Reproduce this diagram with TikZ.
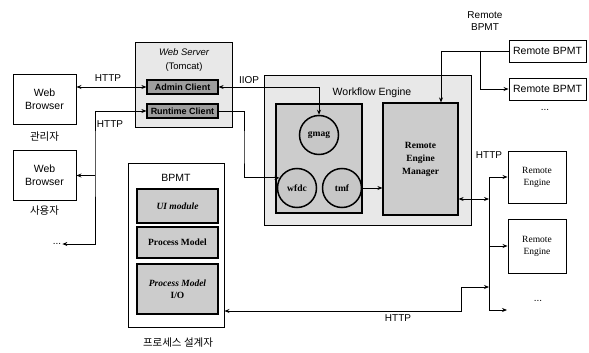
\documentclass[tikz,border=0pt]{standalone}
\usepackage{fontspec}
\setmainfont{Liberation Serif}
\setsansfont{Liberation Sans}
\newfontfamily\kor{Noto Sans CJK KR}
\usetikzlibrary{arrows.meta, positioning, calc}
\tikzset{
  brw/.style = {draw=black, fill=white, minimum width=63pt, minimum height=50pt,
    align=center, inner sep=2pt, line width=0.9pt,
    font=\sffamily\fontsize{10.5}{13}\selectfont},
  grp/.style = {draw=black, fill=black!9, line width=0.9pt, inner sep=0pt},
  cli/.style = {draw=black, fill=black!38, line width=1.2pt, minimum width=71pt,
    minimum height=14pt, inner sep=0pt, font=\sffamily\bfseries\fontsize{9}{10}\selectfont},
  crc/.style = {circle, draw=black, fill=black!22, line width=1.5pt, minimum size=39pt,
    inner sep=0pt, font=\bfseries\fontsize{9.5}{10}\selectfont},
  mdl/.style = {draw=black, fill=black!20, line width=1.2pt, align=center,
    inner sep=0pt, font=\bfseries\fontsize{9.5}{12}\selectfont},
  rmt/.style = {draw=black, fill=white, line width=0.9pt, align=center, inner sep=0pt},
  txt/.style = {font=\sffamily\fontsize{10}{12}\selectfont, align=center, inner sep=1pt},
  kr/.style = {font=\kor\fontsize{10.5}{12}\selectfont, inner sep=1pt},
  lnk/.style = {line width=0.9pt, >={Stealth[length=5pt, width=4pt]}}
}

\begin{document}
\begin{tikzpicture}[x=1pt, y=-1pt]
  \useasboundingbox (0,0) rectangle (589,353);
  % browsers
  \node [brw] (wb1) at (44.5,99.5) {Web\\Browser};
  \node [kr] (adm) at (44.5,137) {관리자};
  \node [brw] (wb2) at (44.5,175.5) {Web\\Browser};
  \node [kr] (usr) at (44.5,211) {사용자};
  \node [txt] (dl) at (57,244) {...};
  % web server
  \node [grp, minimum width=97pt, minimum height=85pt] (ws) at (183.5,84.5) {};
  \node [txt, font=\sffamily\itshape\fontsize{9.5}{10}\selectfont] (wst) at (184,52) {Web Server};
  \node [txt, font=\sffamily\fontsize{9.5}{10}\selectfont] (wsc) at (184,67) {(Tomcat)};
  \node [cli] (ac) at (182.5,87) {Admin Client};
  \node [cli] (rc) at (182.5,111) {Runtime Client};
  % workflow engine
  \node [grp, minimum width=207pt, minimum height=150pt] (we) at (367.5,150) {};
  \node [txt, font=\sffamily\fontsize{10.5}{12}\selectfont] (wet) at (372,93) {Workflow Engine};
  \node [mdl, minimum width=86pt, minimum height=109pt] (core) at (319,158.5) {};
  \node [crc] (gmag) at (319,135) {gmag};
  \node [crc] (wfdc) at (297,188) {wfdc};
  \node [crc] (tmf) at (342,188) {tmf};
  \node [mdl, minimum width=75pt, minimum height=112pt,
    font=\bfseries\fontsize{9.5}{13}\selectfont] (rem) at (420.5,159) {Remote\\Engine\\Manager};
  % remote bpmt
  \node [txt] (rbt) at (485,21) {Remote\\BPMT};
  \node [rmt, minimum width=77pt, minimum height=22pt,
    font=\sffamily\fontsize{10.5}{12}\selectfont] (rb1) at (547.5,51) {Remote BPMT};
  \node [rmt, minimum width=77pt, minimum height=22pt,
    font=\sffamily\fontsize{10.5}{12}\selectfont] (rb2) at (547.5,89) {Remote BPMT};
  \node [txt] (dr) at (545,110) {...};
  % remote engines
  \node [rmt, minimum width=58pt, minimum height=52pt,
    font=\fontsize{9.5}{12}\selectfont] (re1) at (537,177) {Remote\\Engine};
  \node [rmt, minimum width=58pt, minimum height=54pt,
    font=\fontsize{9.5}{12}\selectfont] (re2) at (537,246) {Remote\\Engine};
  \node [txt] (de2) at (538,301) {...};
  % bpmt
  \node [rmt, minimum width=96pt, minimum height=164pt] (bpmt) at (176,245) {};
  \node [txt, font=\sffamily\fontsize{10.5}{12}\selectfont] (bpt) at (176,178) {BPMT};
  \node [mdl, minimum width=81pt, minimum height=34pt, font=\bfseries\itshape\fontsize{9.5}{12}\selectfont]
    (ui) at (177.5,206) {UI module};
  \node [mdl, minimum width=81pt, minimum height=31pt] (pm) at (177.5,242.5) {Process Model};
  \node [mdl, minimum width=81pt, minimum height=50pt]
    (pio) at (177.5,289) {\textit{Process Model}\\I/O};
  \node [kr] (dsg) at (178,343) {프로세스 설계자};
  % labels
  \node [txt] (h1) at (108,78) {HTTP};
  \node [txt] (h2) at (110,124) {HTTP};
  \node [txt] (iiop) at (249,80) {IIOP};
  \node [txt] (h3) at (489,155) {HTTP};
  \node [txt] (h4) at (398,318) {HTTP};
  % connectors
  \coordinate (hv) at (95,150);
  \coordinate (rv) at (244,150);
  \coordinate (rj) at (441,51);
  \coordinate (rk) at (480,51);
  \coordinate (bt) at (489,177);
  \coordinate (bb) at (489,310);
  \coordinate (de) at (507,310);
  \coordinate (hb) at (489,199);
  \coordinate (hj) at (489,287);
  \coordinate (hc) at (461,311);
  \draw [lnk, <->] (wb1.east |- ac.west) -- (ac.west);
  \draw [lnk, <->] (rc.west) -| (hv) |- (dl.east);
  \draw [lnk, ->] (wb2.east -| hv) -- (wb2.east);
  \draw [lnk, <->] (ac.east) -| (gmag.north);
  \draw [lnk, ->] (rc.east) -| (rv) |- (wfdc.150);
  \draw [lnk, ->] (tmf.east) -- (tmf.east -| rem.west);
  \draw [lnk] (rj) -- (rb1.west);
  \draw [lnk, ->] (rj) -- (rj |- rem.north);
  \draw [lnk, ->] (rk) |- (rb2.west);
  \draw [lnk] (bt) -- (bb);
  \draw [lnk, ->] (bt) -- (re1.west);
  \draw [lnk, ->] (bt |- re2.west) -- (re2.west);
  \draw [lnk, ->] (bb) -- (de);
  \draw [lnk, <->] (hb) -- (hb -| rem.east);
  \draw [lnk, <->] (bpmt.east |- hc) -- (hc) |- (hj);
\end{tikzpicture}
\end{document}
